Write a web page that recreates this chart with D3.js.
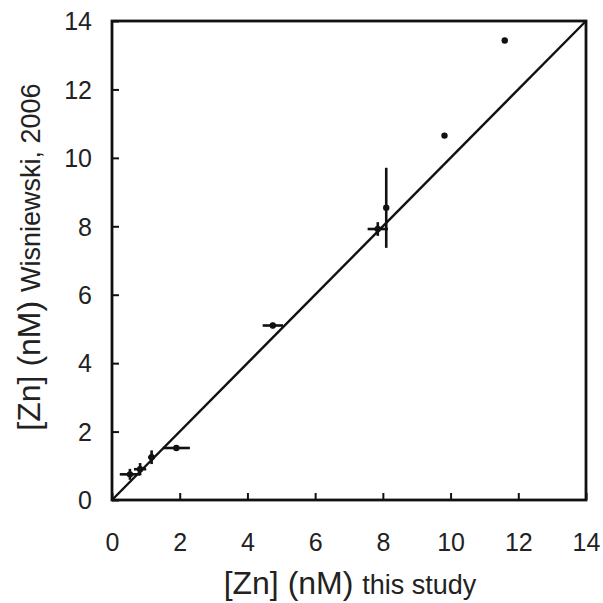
<!DOCTYPE html>
<html>
<head>
<meta charset="utf-8">
<script src="https://cdn.jsdelivr.net/npm/d3@7"></script>
<style>
  body { margin: 0; background: #fff; }
  svg { display: block; font-family: "Liberation Sans", Arial, sans-serif; }
</style>
</head>
<body>
<svg id="chart" width="603" height="603"></svg>
<script>
// data
const xVals = [0.53, 0.83, 1.17, 1.9, 4.75, 7.85, 8.1, 9.82, 11.6];
const yVals = [0.75, 0.9, 1.25, 1.52, 5.1, 7.92, 8.54, 10.65, 13.43];
const xErr = [0.3, 0.18, 0.1, 0.4, 0.3, 0.3, 0, 0, 0];
const yErr = [0.16, 0.18, 0.2, 0, 0.08, 0.2, 1.17, 0, 0];
const ticks = [0, 2, 4, 6, 8, 10, 12, 14];

const svg = d3.select("#chart");
const x = d3.scaleLinear().domain([0, 14]).range([112, 586]);
const y = d3.scaleLinear().domain([0, 14]).range([500, 21]);

const pts = xVals.map((v, i) => ({ x: v, y: yVals[i], ex: xErr[i], ey: yErr[i] }));

// frame
svg.append("rect")
  .attr("x", x(0)).attr("y", y(14))
  .attr("width", x(14) - x(0)).attr("height", y(0) - y(14))
  .attr("fill", "none").attr("stroke", "#111").attr("stroke-width", 2.8);

// axes with inward ticks
const xAxis = svg.append("g").attr("transform", `translate(0,${y(0)})`)
  .call(d3.axisBottom(x).tickValues(ticks).tickSize(-7).tickPadding(33).tickFormat(d3.format("d")));
const yAxis = svg.append("g").attr("transform", `translate(${x(0)},0)`)
  .call(d3.axisLeft(y).tickValues(ticks).tickSize(-7).tickPadding(20).tickFormat(d3.format("d")));
[xAxis, yAxis].forEach(g => {
  g.select(".domain").remove();
  g.selectAll(".tick line").attr("stroke", "#111").attr("stroke-width", 2);
  g.selectAll(".tick text").attr("font-size", 25).attr("fill", "#222")
    .attr("font-family", "Liberation Sans, Arial, sans-serif");
});
yAxis.selectAll(".tick text").attr("dy", "0.35em");

// 1:1 line
svg.append("line")
  .attr("x1", x(0)).attr("y1", y(0)).attr("x2", x(14)).attr("y2", y(14))
  .attr("stroke", "#111").attr("stroke-width", 2.4);

// error bars
const g = svg.append("g").attr("stroke", "#111").attr("stroke-width", 2.6);
g.selectAll(".ex").data(pts.filter(d => d.ex > 0)).join("line")
  .attr("x1", d => x(d.x - d.ex)).attr("x2", d => x(d.x + d.ex))
  .attr("y1", d => y(d.y)).attr("y2", d => y(d.y));
g.selectAll(".ey").data(pts.filter(d => d.ey > 0)).join("line")
  .attr("x1", d => x(d.x)).attr("x2", d => x(d.x))
  .attr("y1", d => y(d.y - d.ey)).attr("y2", d => y(d.y + d.ey));

// points
svg.selectAll("circle").data(pts).join("circle")
  .attr("cx", d => x(d.x)).attr("cy", d => y(d.y)).attr("r", 3.2)
  .attr("fill", "#111");

// axis titles
const xt = svg.append("text").attr("x", 350).attr("y", 594)
  .attr("text-anchor", "middle").attr("fill", "#222");
xt.append("tspan").attr("font-size", 32).text("[Zn] (nM) ");
xt.append("tspan").attr("font-size", 27).text("this study");

const yt = svg.append("text")
  .attr("transform", "translate(40,257) rotate(-90)")
  .attr("text-anchor", "middle").attr("fill", "#222");
yt.append("tspan").attr("font-size", 32).text("[Zn] (nM) ");
yt.append("tspan").attr("font-size", 27).text("Wisniewski, 2006");
</script>
</body>
</html>
